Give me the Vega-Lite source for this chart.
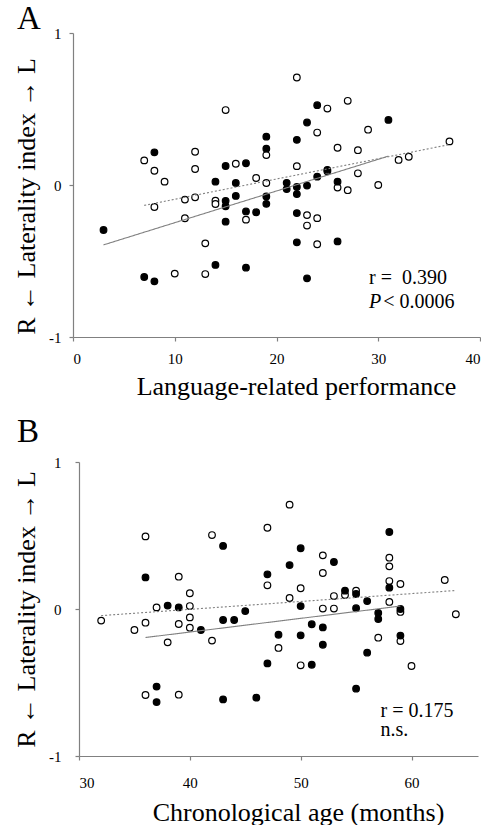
{
  "$schema": "https://vega.github.io/schema/vega-lite/v6.json",
  "padding": {"left": 13, "top": 3, "right": 0, "bottom": 0},
  "background": "white",
  "columns": 1,
  "align": "none",
  "spacing": 17,
  "config": {
    "view": {"stroke": null},
    "font": "Liberation Serif",
    "axis": {
      "grid": false,
      "domainColor": "#808080",
      "tickColor": "#808080",
      "domainWidth": 1.2,
      "tickWidth": 1.2,
      "tickSize": 4,
      "labelColor": "#000000",
      "labelFont": "Liberation Serif",
      "labelFontSize": 15,
      "titleFont": "Liberation Serif",
      "titleFontSize": 26,
      "titleFontWeight": "normal",
      "titleColor": "#000000"
    },
    "title": {
      "font": "Liberation Serif",
      "fontSize": 33,
      "fontWeight": "normal",
      "anchor": "start",
      "frame": "group",
      "color": "#000000"
    }
  },
  "datasets": {
    "pointsA": [
      {"x": 7, "y": 0.162, "g": "open"}, {"x": 8, "y": 0.094, "g": "open"}, {"x": 8, "y": -0.145, "g": "open"},
      {"x": 9, "y": 0.022, "g": "open"}, {"x": 10, "y": -0.583, "g": "open"}, {"x": 11, "y": -0.096, "g": "open"},
      {"x": 11, "y": -0.219, "g": "open"}, {"x": 12, "y": 0.219, "g": "open"}, {"x": 12, "y": 0.105, "g": "open"},
      {"x": 12, "y": -0.081, "g": "open"}, {"x": 13, "y": -0.384, "g": "open"}, {"x": 13, "y": -0.586, "g": "open"},
      {"x": 14, "y": -0.103, "g": "open"}, {"x": 14, "y": -0.125, "g": "open"}, {"x": 15, "y": 0.493, "g": "open"},
      {"x": 16, "y": 0.14, "g": "open"}, {"x": 17, "y": -0.228, "g": "open"}, {"x": 18, "y": 0.046, "g": "open"},
      {"x": 19, "y": 0.197, "g": "open"}, {"x": 19, "y": 0.013, "g": "open"}, {"x": 22, "y": 0.707, "g": "open"},
      {"x": 22, "y": 0.124, "g": "open"}, {"x": 23, "y": -0.198, "g": "open"}, {"x": 23, "y": -0.267, "g": "open"},
      {"x": 24, "y": 0.345, "g": "open"}, {"x": 24, "y": -0.218, "g": "open"}, {"x": 24, "y": -0.39, "g": "open"},
      {"x": 25, "y": 0.503, "g": "open"}, {"x": 25, "y": 0.09, "g": "open"}, {"x": 26, "y": 0.245, "g": "open"},
      {"x": 26, "y": -0.017, "g": "open"}, {"x": 27, "y": 0.554, "g": "open"}, {"x": 27, "y": -0.034, "g": "open"},
      {"x": 28, "y": 0.229, "g": "open"}, {"x": 28, "y": 0.077, "g": "open"}, {"x": 29, "y": 0.364, "g": "open"},
      {"x": 30, "y": 0, "g": "open"}, {"x": 32, "y": 0.165, "g": "open"}, {"x": 33, "y": 0.186, "g": "open"},
      {"x": 37, "y": 0.287, "g": "open"},
      {"x": 3, "y": -0.296, "g": "filled"}, {"x": 7, "y": -0.605, "g": "filled"}, {"x": 8, "y": -0.634, "g": "filled"},
      {"x": 8, "y": 0.215, "g": "filled"}, {"x": 14, "y": 0.022, "g": "filled"}, {"x": 14, "y": -0.526, "g": "filled"},
      {"x": 15, "y": 0.125, "g": "filled"}, {"x": 15, "y": -0.104, "g": "filled"}, {"x": 15, "y": -0.14, "g": "filled"},
      {"x": 15, "y": -0.241, "g": "filled"}, {"x": 16, "y": 0.013, "g": "filled"}, {"x": 16, "y": -0.072, "g": "filled"},
      {"x": 17, "y": 0.143, "g": "filled"}, {"x": 17, "y": -0.174, "g": "filled"}, {"x": 17, "y": -0.544, "g": "filled"},
      {"x": 18, "y": -0.179, "g": "filled"}, {"x": 19, "y": 0.318, "g": "filled"}, {"x": 19, "y": 0.239, "g": "filled"},
      {"x": 19, "y": -0.075, "g": "filled"}, {"x": 19, "y": -0.124, "g": "filled"}, {"x": 21, "y": 0.014, "g": "filled"},
      {"x": 21, "y": -0.027, "g": "filled"}, {"x": 22, "y": -0.013, "g": "filled"}, {"x": 22, "y": -0.06, "g": "filled"},
      {"x": 22, "y": 0.297, "g": "filled"}, {"x": 22, "y": -0.185, "g": "filled"}, {"x": 22, "y": -0.377, "g": "filled"},
      {"x": 23, "y": 0.411, "g": "filled"}, {"x": 23, "y": -0.004, "g": "filled"}, {"x": 23, "y": -0.614, "g": "filled"},
      {"x": 24, "y": 0.525, "g": "filled"}, {"x": 24, "y": 0.055, "g": "filled"}, {"x": 25, "y": 0.1, "g": "filled"},
      {"x": 26, "y": 0.022, "g": "filled"}, {"x": 26, "y": -0.371, "g": "filled"}, {"x": 31, "y": 0.428, "g": "filled"}
    ],
    "linesA": [
      {"x": 3, "y": -0.394, "g": "filled"}, {"x": 31, "y": 0.19, "g": "filled"},
      {"x": 7, "y": -0.134, "g": "open"}, {"x": 37, "y": 0.266, "g": "open"}
    ],
    "textA": [
      {"x": 29.1, "y": -0.649, "label": "r = \u00a00.390"},
      {"x": 30.5, "y": -0.807, "label": "< 0.0006"}
    ],
    "italicA": [
      {"x": 29.1, "y": -0.807, "label": "P"}
    ],
    "pointsB": [
      {"x": 32, "y": -0.079, "g": "open"}, {"x": 36, "y": 0.494, "g": "open"}, {"x": 36, "y": -0.093, "g": "open"},
      {"x": 35, "y": -0.143, "g": "open"}, {"x": 36, "y": -0.585, "g": "open"}, {"x": 37, "y": 0.011, "g": "open"},
      {"x": 38, "y": -0.227, "g": "open"}, {"x": 39, "y": 0.22, "g": "open"}, {"x": 39, "y": -0.102, "g": "open"},
      {"x": 39, "y": -0.583, "g": "open"}, {"x": 40, "y": 0.107, "g": "open"}, {"x": 40, "y": 0.02, "g": "open"},
      {"x": 40, "y": -0.057, "g": "open"}, {"x": 40, "y": -0.127, "g": "open"}, {"x": 42, "y": 0.503, "g": "open"},
      {"x": 42, "y": -0.215, "g": "open"}, {"x": 47, "y": 0.553, "g": "open"}, {"x": 47, "y": 0.161, "g": "open"},
      {"x": 48, "y": -0.265, "g": "open"}, {"x": 49, "y": 0.71, "g": "open"}, {"x": 49, "y": 0.075, "g": "open"},
      {"x": 50, "y": 0.141, "g": "open"}, {"x": 50, "y": -0.383, "g": "open"}, {"x": 52, "y": 0.365, "g": "open"},
      {"x": 52, "y": 0.245, "g": "open"}, {"x": 52, "y": 0.003, "g": "open"}, {"x": 53, "y": 0.003, "g": "open"},
      {"x": 53, "y": 0.088, "g": "open"}, {"x": 54, "y": 0.095, "g": "open"}, {"x": 55, "y": 0.125, "g": "open"},
      {"x": 57, "y": -0.195, "g": "open"}, {"x": 58, "y": 0.349, "g": "open"}, {"x": 58, "y": 0.29, "g": "open"},
      {"x": 58, "y": 0.19, "g": "open"}, {"x": 58, "y": 0.048, "g": "open"}, {"x": 59, "y": 0.17, "g": "open"},
      {"x": 59, "y": -0.02, "g": "open"}, {"x": 59, "y": -0.218, "g": "open"}, {"x": 60, "y": -0.388, "g": "open"},
      {"x": 63, "y": 0.197, "g": "open"}, {"x": 64, "y": -0.036, "g": "open"},
      {"x": 36, "y": 0.215, "g": "filled"}, {"x": 37, "y": -0.528, "g": "filled"}, {"x": 37, "y": -0.633, "g": "filled"},
      {"x": 38, "y": 0.023, "g": "filled"}, {"x": 39, "y": 0.011, "g": "filled"}, {"x": 41, "y": -0.143, "g": "filled"},
      {"x": 43, "y": 0.429, "g": "filled"}, {"x": 43, "y": -0.075, "g": "filled"}, {"x": 43, "y": -0.615, "g": "filled"},
      {"x": 44, "y": -0.075, "g": "filled"}, {"x": 45, "y": -0.014, "g": "filled"}, {"x": 46, "y": -0.603, "g": "filled"},
      {"x": 47, "y": 0.236, "g": "filled"}, {"x": 47, "y": -0.37, "g": "filled"}, {"x": 48, "y": -0.175, "g": "filled"},
      {"x": 49, "y": 0.299, "g": "filled"}, {"x": 50, "y": 0.413, "g": "filled"}, {"x": 50, "y": 0.02, "g": "filled"},
      {"x": 50, "y": -0.179, "g": "filled"}, {"x": 51, "y": -0.104, "g": "filled"}, {"x": 51, "y": -0.379, "g": "filled"},
      {"x": 52, "y": -0.125, "g": "filled"}, {"x": 52, "y": -0.243, "g": "filled"}, {"x": 53, "y": 0.32, "g": "filled"},
      {"x": 54, "y": 0.125, "g": "filled"}, {"x": 55, "y": 0.102, "g": "filled"}, {"x": 55, "y": 0.005, "g": "filled"},
      {"x": 55, "y": -0.542, "g": "filled"}, {"x": 56, "y": 0.054, "g": "filled"}, {"x": 56, "y": -0.297, "g": "filled"},
      {"x": 57, "y": -0.027, "g": "filled"}, {"x": 57, "y": -0.068, "g": "filled"}, {"x": 58, "y": 0.524, "g": "filled"},
      {"x": 58, "y": 0.145, "g": "filled"}, {"x": 59, "y": 0.0, "g": "filled"}, {"x": 59, "y": -0.181, "g": "filled"}
    ],
    "linesB": [
      {"x": 36, "y": -0.194, "g": "filled"}, {"x": 59, "y": 0.02, "g": "filled"},
      {"x": 32, "y": -0.045, "g": "open"}, {"x": 64, "y": 0.126, "g": "open"}
    ],
    "textB": [
      {"x": 57.2, "y": -0.733, "label": "r = 0.175"},
      {"x": 57.2, "y": -0.864, "label": "n.s."}
    ]
  },
  "concat": [
    {
      "title": {"text": "A", "dx": -56, "offset": -10},
      "width": 407,
      "height": 304,
      "encoding": {
        "x": {
          "field": "x", "type": "quantitative",
          "scale": {"domain": [0, 40], "nice": false, "zero": false},
          "axis": {"values": [0, 10, 20, 30, 40], "title": "Language-related performance", "labelPadding": 10, "titlePadding": 7, "titleX": 223}
        },
        "y": {
          "field": "y", "type": "quantitative",
          "scale": {"domain": [-1, 1], "nice": false, "zero": false},
          "axis": {"values": [-1, 0, 1], "title": "R \u2190 Laterality index \u2192 L", "labelPadding": 8, "titlePadding": 9, "titleY": 163, "labelExpr": "'' + datum.value"}
        }
      },
      "layer": [
        {
          "data": {"name": "pointsA"},
          "mark": {"type": "point", "shape": "circle", "filled": true, "size": 44, "stroke": "#000000", "strokeWidth": 1.2, "opacity": 1},
          "encoding": {
            "fill": {"field": "g", "type": "nominal", "scale": {"domain": ["open", "filled"], "range": ["#ffffff", "#000000"]}, "legend": null}
          }
        },
        {
          "data": {"name": "linesA"},
          "mark": {"type": "line", "color": "#808080", "strokeWidth": 1.1},
          "encoding": {
            "detail": {"field": "g", "type": "nominal"},
            "strokeDash": {"field": "g", "type": "nominal", "scale": {"domain": ["filled", "open"], "range": [[1, 0], [2, 2]]}, "legend": null}
          }
        },
        {
          "data": {"name": "textA"},
          "mark": {"type": "text", "align": "left", "baseline": "alphabetic", "fontSize": 20, "font": "Liberation Serif", "color": "#000000"},
          "encoding": {"text": {"field": "label"}}
        },
        {
          "data": {"name": "italicA"},
          "mark": {"type": "text", "align": "left", "baseline": "alphabetic", "fontSize": 20, "font": "Liberation Serif", "fontStyle": "italic", "color": "#000000"},
          "encoding": {"text": {"field": "label"}}
        }
      ]
    },
    {
      "title": {"text": "B", "dx": -56, "offset": 6},
      "width": 405,
      "height": 294,
      "encoding": {
        "x": {
          "field": "x", "type": "quantitative",
          "scale": {"domain": [30, 66], "nice": false, "zero": false, "range": [6, 405]},
          "axis": {"values": [30, 40, 50, 60], "title": "Chronological age (months)", "labelPadding": 15, "titlePadding": 9, "titleX": 225}
        },
        "y": {
          "field": "y", "type": "quantitative",
          "scale": {"domain": [-1, 1], "nice": false, "zero": false},
          "axis": {"values": [-1, 0, 1], "title": "R \u2190 Laterality index \u2192 L", "labelPadding": 14, "titlePadding": 9, "offset": -6, "labelExpr": "'' + datum.value"}
        }
      },
      "layer": [
        {
          "data": {"name": "pointsB"},
          "mark": {"type": "point", "shape": "circle", "filled": true, "size": 44, "stroke": "#000000", "strokeWidth": 1.2, "opacity": 1},
          "encoding": {
            "fill": {"field": "g", "type": "nominal", "scale": {"domain": ["open", "filled"], "range": ["#ffffff", "#000000"]}, "legend": null}
          }
        },
        {
          "data": {"name": "linesB"},
          "mark": {"type": "line", "color": "#808080", "strokeWidth": 1.1},
          "encoding": {
            "detail": {"field": "g", "type": "nominal"},
            "strokeDash": {"field": "g", "type": "nominal", "scale": {"domain": ["filled", "open"], "range": [[1, 0], [2, 2]]}, "legend": null}
          }
        },
        {
          "data": {"name": "textB"},
          "mark": {"type": "text", "align": "left", "baseline": "alphabetic", "fontSize": 20, "font": "Liberation Serif", "color": "#000000"},
          "encoding": {"text": {"field": "label"}}
        }
      ]
    }
  ]
}
